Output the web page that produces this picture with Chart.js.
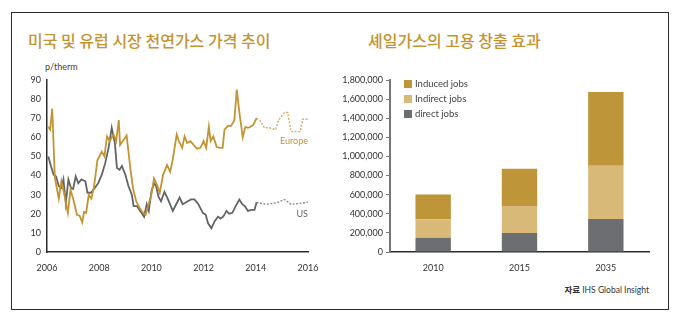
<!DOCTYPE html>
<html>
<head>
<meta charset="utf-8">
<script src="https://cdn.jsdelivr.net/npm/chart.js@4/dist/chart.umd.min.js"></script>
<style>
  html, body { margin: 0; padding: 0; background: #fff; }
  #page { position: relative; width: 680px; height: 322px; overflow: hidden; font-family: Lato, "Noto Sans", sans-serif; }
  #frame { position: absolute; left: 11px; top: 12px; width: 656px; height: 296px; border: 1.5px solid #2b2b2b; }
  .title { position: absolute; top: 29px; font-family: "Noto Sans CJK KR", sans-serif; font-size: 16px; font-weight: 500; color: #c39431; white-space: nowrap; line-height: 22px; }
  .unit { position: absolute; left: 45px; top: 61px; font-size: 9px; color: #444; }
  .source { position: absolute; right: 31px; top: 283px; font-size: 8.5px; color: #333; white-space: nowrap; }
  .source b { font-family: "Noto Sans CJK KR", sans-serif; font-weight: 700; }
  canvas { position: absolute; }
</style>
</head>
<body>
<div id="page">
  <div id="frame"></div>
  <div class="title" style="left:28px">미국 및 유럽 시장 천연가스 가격 추이</div>
  <div class="title" style="left:368px">셰일가스의 고용 창출 효과</div>
  <div class="unit">p/therm</div>
  <div class="source"><b>자료</b> IHS Global Insight</div>
  <div style="position:absolute;left:14px;top:60px;width:320px;height:225px"><canvas id="gas"></canvas></div>
  <div style="position:absolute;left:340px;top:60px;width:320px;height:225px"><canvas id="jobs"></canvas></div>
</div>
<script>
// 유럽 가스 가격 (실적)
const euYears = [2006.05, 2006.12, 2006.2, 2006.3, 2006.45, 2006.55, 2006.65, 2006.8, 2006.9, 2007.0,
  2007.15, 2007.25, 2007.35, 2007.42, 2007.5, 2007.6, 2007.7, 2007.8, 2007.93, 2008.1,
  2008.2, 2008.3, 2008.4, 2008.55, 2008.65, 2008.75, 2008.8, 2008.9, 2009.05, 2009.2,
  2009.3, 2009.42, 2009.55, 2009.68, 2009.78, 2009.88, 2010.0, 2010.1, 2010.22, 2010.32,
  2010.45, 2010.6, 2010.72, 2010.82, 2010.97, 2011.05, 2011.18, 2011.27, 2011.37, 2011.5,
  2011.62, 2011.75, 2011.88, 2012.0, 2012.1, 2012.2, 2012.27, 2012.37, 2012.5, 2012.62,
  2012.73, 2012.8, 2012.93, 2013.05, 2013.18, 2013.27, 2013.37, 2013.5, 2013.6, 2013.7,
  2013.8, 2013.9, 2014.03];
const euPrices = [65.5, 64, 75, 39, 28, 37, 31, 20.5, 32.5, 28,
  19.5, 19, 15.5, 21, 20.5, 30, 28, 34, 48, 52.5,
  50, 60.5, 58, 61.5, 58, 69, 56, 58, 61, 43,
  33, 26.5, 23, 20.5, 19.5, 24.5, 30, 38.5, 35, 31,
  40.5, 45.5, 42, 48.5, 61.5, 58, 54.5, 60.5, 57, 58,
  56, 54, 54.5, 58, 54.5, 65.5, 58, 60.5, 55, 54.5,
  54.5, 64, 66, 66, 69, 85, 73, 60, 65.5, 65,
  65.5, 66.5, 70];
// 유럽 전망 (점선)
const euForecastYears = [2014.03, 2014.15, 2014.33, 2014.52, 2014.76, 2014.87, 2015.1, 2015.22, 2015.35, 2015.7, 2015.8, 2016.0];
const euForecastPrices = [70, 69, 65, 65, 64, 69, 73, 73, 63, 63, 69.5, 69.5];

// 미국 가스 가격 (실적)
const usYears = [2006.05, 2006.15, 2006.25, 2006.35, 2006.45, 2006.55, 2006.63, 2006.72, 2006.82, 2006.92,
  2007.0, 2007.1, 2007.2, 2007.32, 2007.47, 2007.55, 2007.68, 2007.83, 2007.96, 2008.1,
  2008.23, 2008.36, 2008.48, 2008.6, 2008.68, 2008.78, 2008.87, 2009.0, 2009.12, 2009.25,
  2009.32, 2009.45, 2009.57, 2009.72, 2009.82, 2009.9, 2010.0, 2010.1, 2010.18, 2010.27,
  2010.37, 2010.5, 2010.62, 2010.82, 2010.95, 2011.08, 2011.2, 2011.33, 2011.52, 2011.65,
  2011.8, 2011.97, 2012.08, 2012.17, 2012.3, 2012.42, 2012.55, 2012.65, 2012.75, 2012.88,
  2012.98, 2013.1, 2013.23, 2013.37, 2013.48, 2013.58, 2013.7, 2013.83, 2013.95, 2014.03];
const usPrices = [50, 45, 40.5, 39.5, 34.5, 33.5, 38, 25.5, 38, 33.5,
  33, 39.5, 36, 38, 37, 31, 31, 33.5, 36, 40.5,
  46.5, 54.5, 65, 57, 44, 43, 45, 40.5, 34.5, 30,
  24, 24, 21.5, 18.5, 25, 21.5, 31.5, 36, 34.5, 29,
  26.5, 31.5, 28, 21.5, 25, 28.5, 25, 26, 27.5, 27.5,
  25, 20.5, 19.5, 15, 12.5, 16, 18.5, 17.5, 18.5, 21.5,
  20, 20.5, 24, 27.5, 25, 24, 21.5, 22, 22, 26];
// 미국 전망 (점선)
const usForecastYears = [2014.03, 2014.2, 2014.4, 2014.65, 2014.85, 2015.1, 2015.35, 2015.6, 2016.0];
const usForecastPrices = [26, 25.5, 25, 25.5, 26, 27.5, 25, 25.3, 26];

const gasYearTicks = [2006, 2008, 2010, 2012, 2014, 2016];

// 고용 창출 (명)
const jobYears = ['2010', '2015', '2035'];
const directJobs = [148000, 198000, 345000];
const indirectJobs = [194000, 283000, 557000];
const inducedJobs = [259000, 389000, 773000];

const GOLD = '#c39431';
const GRAY = '#636467';
const tickFont = { family: 'Lato, "Noto Sans", sans-serif', size: 9 };

function toPoints(xs, ys) {
  return xs.map((x, i) => ({ x, y: ys[i] }));
}

// 선 끝에 붙는 계열 이름
const seriesNames = {
  id: 'seriesNames',
  afterDatasetsDraw(chart) {
    const { ctx, scales: { x, y } } = chart;
    ctx.save();
    ctx.font = '9px Lato, "Noto Sans", sans-serif';
    ctx.textAlign = 'right';
    ctx.textBaseline = 'middle';
    ctx.fillStyle = GOLD;
    ctx.fillText('Europe', x.getPixelForValue(2016), y.getPixelForValue(58));
    ctx.fillStyle = GRAY;
    ctx.fillText('US', x.getPixelForValue(2016), y.getPixelForValue(20));
    ctx.restore();
  }
};

// 차트 영역 안쪽 범례 (위에서부터 Induced, Indirect, direct)
const insideLegend = {
  id: 'insideLegend',
  afterDraw(chart) {
    const { ctx, chartArea } = chart;
    const sets = chart.data.datasets.slice().reverse();
    ctx.save();
    ctx.font = '9.5px Lato, "Noto Sans", sans-serif';
    ctx.textBaseline = 'middle';
    sets.forEach((ds, i) => {
      const cy = chartArea.top + 4 + i * 15;
      const left = chartArea.left + 14;
      ctx.fillStyle = ds.backgroundColor;
      ctx.fillRect(left, cy - 4, 8, 8);
      ctx.fillStyle = '#444';
      ctx.fillText(ds.label, left + 11, cy);
    });
    ctx.restore();
  }
};

new Chart(document.getElementById('gas'), {
  type: 'line',
  data: {
    datasets: [
      { data: toPoints(euYears, euPrices), borderColor: GOLD, borderWidth: 1.8 },
      { data: toPoints(euForecastYears, euForecastPrices), borderColor: '#d2ad62', borderWidth: 1.4, borderDash: [2, 1.5] },
      { data: toPoints(usYears, usPrices), borderColor: GRAY, borderWidth: 1.8 },
      { data: toPoints(usForecastYears, usForecastPrices), borderColor: '#8d8e90', borderWidth: 1.4, borderDash: [2, 1.5] }
    ]
  },
  options: {
    responsive: true,
    maintainAspectRatio: false,
    animation: false,
    layout: { padding: { left: 0, right: 26, top: 20, bottom: 0 } },
    elements: { point: { radius: 0 }, line: { tension: 0 } },
    plugins: { legend: { display: false }, tooltip: { enabled: false } },
    scales: {
      x: {
        type: 'linear',
        min: 2006,
        max: 2016,
        afterBuildTicks: s => { s.ticks = gasYearTicks.map(v => ({ value: v })); },
        afterFit: s => { s.height = 33; s.paddingLeft = 0; s.paddingRight = 0; },
        grid: { display: false, drawTicks: false },
        border: { display: true, color: '#2b2b2b', width: 1.5 },
        ticks: { font: tickFont, color: '#333', padding: 11, maxRotation: 0, callback: v => String(v) }
      },
      y: {
        min: 0,
        max: 90,
        afterFit: s => { s.width = 33; s.paddingTop = 0; s.paddingBottom = 0; },
        grid: { display: false, drawTicks: false },
        border: { display: true, color: '#2b2b2b', width: 1.5 },
        ticks: { font: tickFont, color: '#333', padding: 6, stepSize: 10 }
      }
    }
  },
  plugins: [seriesNames]
});

new Chart(document.getElementById('jobs'), {
  type: 'bar',
  data: {
    labels: jobYears,
    datasets: [
      { label: 'direct jobs', data: directJobs, backgroundColor: '#6d6e71' },
      { label: 'Indirect jobs', data: indirectJobs, backgroundColor: '#d8b978' },
      { label: 'Induced jobs', data: inducedJobs, backgroundColor: '#be9538' }
    ]
  },
  options: {
    responsive: true,
    maintainAspectRatio: false,
    animation: false,
    layout: { padding: { left: 0, right: 11, top: 20, bottom: 0 } },
    datasets: { bar: { categoryPercentage: 1, barPercentage: 0.41 } },
    plugins: { tooltip: { enabled: false }, legend: { display: false } },
    scales: {
      x: {
        stacked: true,
        afterFit: s => { s.height = 33; s.paddingLeft = 0; s.paddingRight = 0; },
        grid: { display: false, drawTicks: false },
        border: { display: true, color: '#2b2b2b', width: 1.5 },
        ticks: { font: tickFont, color: '#333', padding: 11 }
      },
      y: {
        stacked: true,
        min: 0,
        max: 1800000,
        afterFit: s => { s.width = 50; s.paddingTop = 0; s.paddingBottom = 0; },
        grid: { drawOnChartArea: false, drawTicks: true, tickLength: 4, color: '#777' },
        border: { display: true, color: '#777', width: 2 },
        ticks: { font: tickFont, color: '#333', padding: 3, stepSize: 200000, callback: v => v.toLocaleString('en-US') }
      }
    }
  },
  plugins: [insideLegend]
});
</script>
</body>
</html>
